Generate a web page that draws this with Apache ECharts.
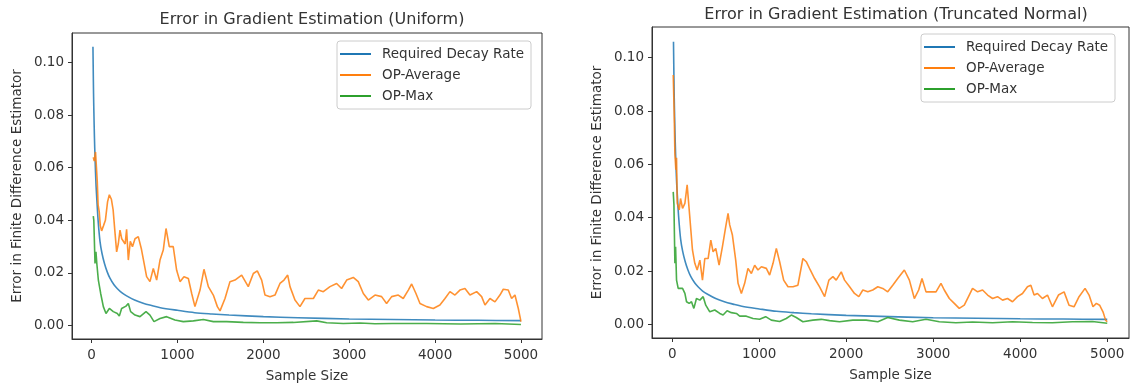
<!DOCTYPE html>
<html>
<head>
<meta charset="utf-8">
<script src="https://cdn.jsdelivr.net/npm/echarts@6/dist/echarts.min.js"></script>
<style>
  html, body { margin: 0; padding: 0; background: #fff; }
  #chart { width: 1131px; height: 388px; }
</style>
</head>
<body>
<div id="chart"></div>
<script>
// shared decay curve (same in both panels)
const decayX = [15, 18, 22, 26, 32, 40, 50, 60, 75, 97, 120, 150, 180, 213, 260, 300, 350, 407, 500, 600, 700, 800, 1000, 1200, 1400, 1600, 2000, 2400, 3000, 3500, 4000, 4500, 5000];
const decayY = [0.106, 0.098, 0.088, 0.081, 0.072, 0.063, 0.054, 0.048, 0.040, 0.032, 0.0275, 0.0235, 0.0205, 0.018, 0.0155, 0.014, 0.0125, 0.0113, 0.0097, 0.0085, 0.0076, 0.0068, 0.0058, 0.0049, 0.0044, 0.004, 0.0034, 0.003, 0.0025, 0.0023, 0.0021, 0.002, 0.0019];

// left panel: Uniform
const uniAvgX = [19, 30, 45, 55, 65, 75, 89, 100, 116, 136, 160, 185, 206, 230, 250, 270, 291, 310, 330, 350, 369, 390, 407, 427, 450, 475, 505, 543, 580, 640, 679, 718, 757, 796, 834, 866, 904, 950, 990, 1029, 1075, 1126, 1165, 1203, 1262, 1308, 1359, 1417, 1464, 1495, 1553, 1611, 1669, 1747, 1824, 1883, 1929, 1980, 2019, 2077, 2135, 2193, 2240, 2283, 2310, 2368, 2426, 2484, 2582, 2640, 2698, 2776, 2853, 2911, 2970, 3047, 3105, 3164, 3222, 3300, 3377, 3435, 3494, 3571, 3629, 3688, 3727, 3777, 3824, 3901, 3979, 4056, 4115, 4173, 4231, 4289, 4348, 4406, 4484, 4542, 4581, 4639, 4697, 4755, 4794, 4852, 4891, 4930, 4969, 5000];
const uniAvgY = [0.064, 0.0625, 0.066, 0.066, 0.055, 0.046, 0.043, 0.038, 0.036, 0.0378, 0.040, 0.047, 0.0497, 0.048, 0.044, 0.036, 0.028, 0.031, 0.0363, 0.033, 0.0331, 0.031, 0.0366, 0.0249, 0.032, 0.030, 0.033, 0.0338, 0.029, 0.0186, 0.0167, 0.0217, 0.0173, 0.0249, 0.0287, 0.0369, 0.030, 0.030, 0.021, 0.0167, 0.0186, 0.0179, 0.0122, 0.0072, 0.0135, 0.0214, 0.0148, 0.0116, 0.0072, 0.0056, 0.0103, 0.0167, 0.0173, 0.0192, 0.0148, 0.0198, 0.0208, 0.0173, 0.0116, 0.011, 0.0116, 0.016, 0.0173, 0.0192, 0.0148, 0.0097, 0.0072, 0.0103, 0.0103, 0.0135, 0.0129, 0.0148, 0.016, 0.0141, 0.0173, 0.0183, 0.0167, 0.0122, 0.0097, 0.0116, 0.011, 0.0084, 0.011, 0.0116, 0.0103, 0.0135, 0.0158, 0.0122, 0.0084, 0.0072, 0.0065, 0.0078, 0.0103, 0.0129, 0.0116, 0.0135, 0.0141, 0.0116, 0.0129, 0.011, 0.0078, 0.0103, 0.009, 0.0116, 0.0138, 0.0135, 0.0103, 0.0116, 0.0065, 0.0015];

const uniMaxX = [19, 25, 39, 50, 60, 78, 105, 136, 167, 206, 252, 299, 322, 349, 400, 427, 454, 505, 563, 633, 679, 726, 796, 873, 970, 1067, 1184, 1301, 1417, 1572, 1766, 1961, 2155, 2349, 2620, 2737, 2931, 3125, 3300, 3500, 3900, 4300, 4700, 5000];
const uniMaxY = [0.0416, 0.040, 0.0236, 0.028, 0.0236, 0.0173, 0.0122, 0.0072, 0.0046, 0.0065, 0.0053, 0.0046, 0.0036, 0.0065, 0.0074, 0.0084, 0.0053, 0.004, 0.0034, 0.0053, 0.004, 0.0015, 0.0027, 0.0034, 0.0021, 0.0015, 0.0018, 0.0023, 0.0015, 0.0015, 0.0012, 0.0011, 0.0011, 0.0012, 0.0018, 0.0011, 0.0008, 0.001, 0.0007, 0.0008, 0.0008, 0.0006, 0.0008, 0.0004];

// right panel: Truncated Normal
const tnAvgX = [12, 23, 31, 42, 50, 58, 81, 96, 119, 146, 172, 202, 233, 260, 287, 318, 348, 375, 413, 444, 470, 501, 539, 577, 615, 642, 661, 692, 730, 757, 795, 833, 871, 910, 948, 986, 1025, 1082, 1120, 1159, 1197, 1235, 1281, 1331, 1388, 1445, 1502, 1541, 1587, 1637, 1694, 1752, 1801, 1847, 1885, 1943, 1981, 2039, 2095, 2145, 2191, 2248, 2305, 2363, 2420, 2477, 2535, 2592, 2668, 2726, 2783, 2833, 2871, 2917, 2974, 3032, 3089, 3127, 3185, 3242, 3299, 3357, 3414, 3452, 3510, 3567, 3625, 3682, 3739, 3797, 3854, 3911, 3969, 4026, 4083, 4122, 4159, 4198, 4255, 4313, 4370, 4439, 4504, 4561, 4618, 4676, 4745, 4791, 4836, 4875, 4912, 4951, 4981, 5000];
const tnAvgY = [0.0935, 0.079, 0.064, 0.058, 0.0625, 0.0454, 0.0429, 0.0472, 0.0435, 0.0454, 0.0523, 0.0404, 0.0279, 0.0229, 0.0204, 0.0241, 0.0166, 0.0247, 0.0247, 0.0316, 0.0272, 0.0285, 0.0222, 0.0291, 0.0366, 0.0416, 0.0373, 0.0335, 0.0241, 0.0154, 0.0116, 0.0154, 0.021, 0.0191, 0.0222, 0.0204, 0.0216, 0.021, 0.0185, 0.0229, 0.0285, 0.0235, 0.0166, 0.0141, 0.0141, 0.0147, 0.0247, 0.0235, 0.0204, 0.0172, 0.0141, 0.0104, 0.0166, 0.0179, 0.0166, 0.0197, 0.0166, 0.0141, 0.0116, 0.0104, 0.0129, 0.0122, 0.0129, 0.0141, 0.0135, 0.0122, 0.0147, 0.0172, 0.0204, 0.0166, 0.0097, 0.0129, 0.0172, 0.0122, 0.0122, 0.0122, 0.0154, 0.0129, 0.0097, 0.0079, 0.006, 0.0072, 0.011, 0.0135, 0.0122, 0.0129, 0.011, 0.0097, 0.0104, 0.0091, 0.0097, 0.0085, 0.0104, 0.0116, 0.0141, 0.0147, 0.011, 0.0116, 0.0097, 0.011, 0.0066, 0.011, 0.0122, 0.0072, 0.0066, 0.0104, 0.0135, 0.011, 0.0066, 0.0079, 0.0072, 0.0047, 0.0016, 0.001];

const tnMaxX = [12, 20, 31, 39, 50, 69, 88, 119, 146, 165, 195, 222, 249, 279, 318, 356, 386, 432, 489, 547, 585, 631, 680, 738, 776, 852, 929, 1005, 1074, 1139, 1235, 1311, 1369, 1426, 1502, 1617, 1713, 1808, 1923, 2076, 2229, 2363, 2477, 2611, 2764, 2917, 3070, 3261, 3452, 3682, 3911, 4141, 4370, 4600, 4829, 5000];
const tnMaxY = [0.0497, 0.045, 0.0229, 0.0291, 0.0166, 0.0135, 0.0129, 0.0135, 0.0116, 0.0085, 0.0079, 0.0085, 0.006, 0.0097, 0.0091, 0.0104, 0.0072, 0.0047, 0.0054, 0.0041, 0.0035, 0.0051, 0.0044, 0.0041, 0.0031, 0.0031, 0.0022, 0.0019, 0.0029, 0.0016, 0.0011, 0.0022, 0.0035, 0.0026, 0.001, 0.0016, 0.0019, 0.0014, 0.001, 0.0016, 0.0016, 0.001, 0.0026, 0.0016, 0.001, 0.0019, 0.001, 0.0006, 0.0009, 0.0006, 0.001, 0.0007, 0.0006, 0.001, 0.0011, 0.0004];

const xTicks = [0, 1000, 2000, 3000, 4000, 5000];
const yTicks = [0, 0.02, 0.04, 0.06, 0.08, 0.10];
const names = ['Required Decay Rate', 'OP-Average', 'OP-Max'];
const colors = ['#1f77b4', '#ff7f0e', '#2ca02c'];

const zip = (xs, ys) => xs.map((x, i) => [x, ys[i]]);
const FONT = 'DejaVu Sans';
const TXT = '#333';
const FS = 13.5;

function xAxis(idx, min, max) {
    return {
        type: 'value', gridIndex: idx, min: min, max: max,
        name: 'Sample Size', nameLocation: 'middle', nameGap: 30,
        nameTextStyle: { fontFamily: FONT, fontSize: FS, color: TXT },
        axisLine: { onZero: false, lineStyle: { color: '#333' } },
        axisTick: { length: 4, customValues: xTicks, lineStyle: { color: '#333' } },
        axisLabel: { customValues: xTicks, margin: 9, fontFamily: FONT, fontSize: FS, color: TXT,
            formatter: v => String(v) },
        splitLine: { show: false }
    };
}

function yAxis(idx, min, max) {
    return {
        type: 'value', gridIndex: idx, min: min, max: max,
        name: 'Error in Finite Difference Estimator', nameLocation: 'middle', nameGap: 48,
        nameTextStyle: { fontFamily: FONT, fontSize: FS, color: TXT },
        axisLine: { onZero: false, lineStyle: { color: '#333' } },
        axisTick: { length: 4, customValues: yTicks, lineStyle: { color: '#333' } },
        axisLabel: { customValues: yTicks, margin: 8, fontFamily: FONT, fontSize: FS, color: TXT,
            formatter: v => v.toFixed(2) },
        splitLine: { show: false }
    };
}

function legend(left, top) {
    return {
        orient: 'vertical', left: left, top: top,
        data: names, icon: 'rect', itemWidth: 31, itemHeight: 2, itemGap: 5,
        padding: [5, 7, 5, 3],
        borderColor: '#ccc', borderWidth: 1, borderRadius: 3, backgroundColor: '#fff',
        textStyle: { fontFamily: FONT, fontSize: FS, color: TXT, lineHeight: 16, padding: [0, 0, 0, 6] },
        selectedMode: false
    };
}

function line(name, data, idx, color, smooth) {
    return {
        type: 'line', name: name, data: data, xAxisIndex: idx, yAxisIndex: idx,
        symbol: 'none', smooth: smooth || false, color: color,
        lineStyle: { width: 1.6, color: color, opacity: 0.85 }
    };
}

const chart = echarts.init(document.getElementById('chart'), null, { renderer: 'canvas' });
chart.setOption({
    animation: false,
    title: [
        { text: 'Error in Gradient Estimation (Uniform)', left: 307, top: 7, textAlign: 'center',
          textStyle: { fontFamily: FONT, fontSize: 16, fontWeight: 'normal', color: TXT } },
        { text: 'Error in Gradient Estimation (Truncated Normal)', left: 891, top: 2, textAlign: 'center',
          textStyle: { fontFamily: FONT, fontSize: 16, fontWeight: 'normal', color: TXT } }
    ],
    legend: [legend(337, 41), legend(921, 34)],
    grid: [
        { left: 72, top: 33, width: 470, height: 306, show: true, borderColor: '#333', borderWidth: 1, backgroundColor: 'transparent' },
        { left: 652, top: 27, width: 477, height: 311, show: true, borderColor: '#333', borderWidth: 1, backgroundColor: 'transparent' }
    ],
    xAxis: [xAxis(0, -229, 5245), xAxis(1, -232, 5250)],
    yAxis: [yAxis(0, -0.0051, 0.1112), yAxis(1, -0.0051, 0.1115)],
    series: [
        line(names[0], zip(decayX, decayY), 0, colors[0], 0.3),
        line(names[1], zip(uniAvgX, uniAvgY), 0, colors[1]),
        line(names[2], zip(uniMaxX, uniMaxY), 0, colors[2]),
        line(names[0], zip(decayX, decayY), 1, colors[0], 0.3),
        line(names[1], zip(tnAvgX, tnAvgY), 1, colors[1]),
        line(names[2], zip(tnMaxX, tnMaxY), 1, colors[2])
    ]
});
</script>
</body>
</html>
